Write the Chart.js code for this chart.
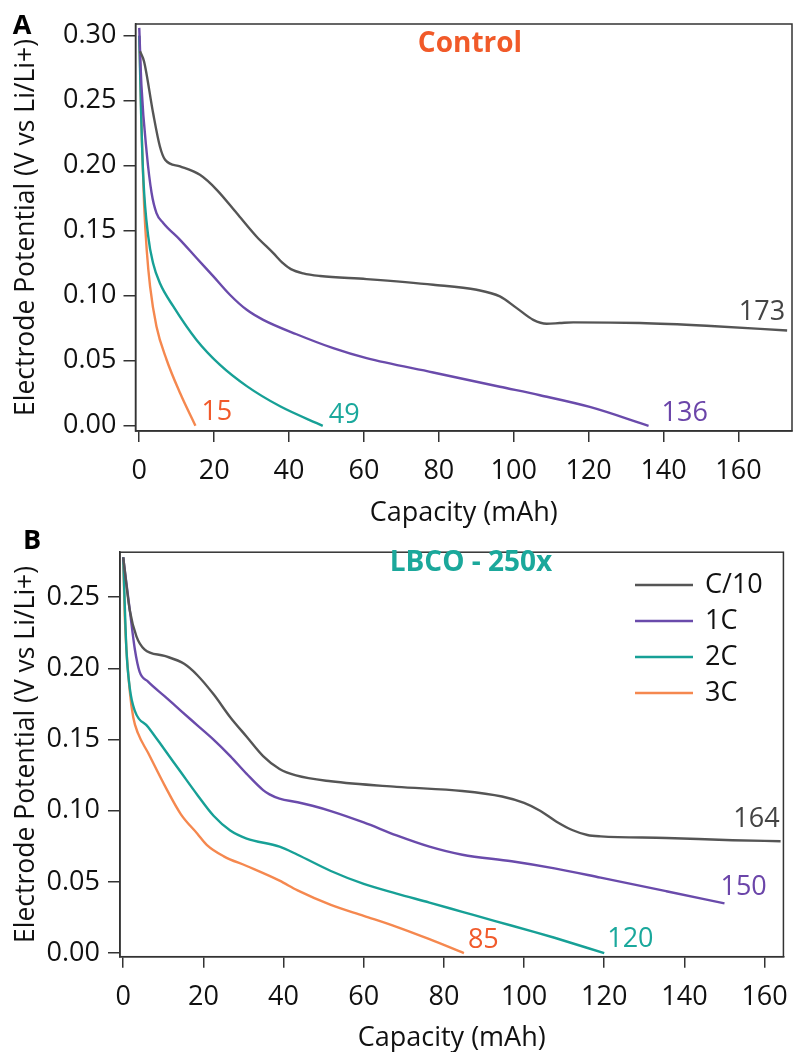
<!DOCTYPE html>
<html>
<head>
<meta charset="utf-8">
<script src="https://cdn.jsdelivr.net/npm/chart.js@4.4.0/dist/chart.umd.min.js"></script>
<style>
  html, body { margin: 0; padding: 0; background: #fff; }
  #wrap { position: relative; width: 801px; height: 1052px; }
  #chartA { position: absolute; left: 0; top: 0; }
  #chartB { position: absolute; left: 0; top: 528px; }
</style>
</head>
<body>
<div id="wrap">
  <canvas id="chartA" width="801" height="528"></canvas>
  <canvas id="chartB" width="801" height="524"></canvas>
</div>
<script>
// series names / colours
const seriesNames = ['C/10', '1C', '2C', '3C'];
const lineColors = ['#555555', '#6a4bab', '#17a096', '#f5884f'];
const labelColors = ['#444444', '#6b45a9', '#1aa89c', '#f15a2b'];

// panel A - Control
const capA_C10 = [0.2, 1.3, 3.7, 5.5, 6.9, 10.9, 16.2, 20.7, 26, 31.3, 35.8, 38.2, 40.5, 43.8, 48.3, 60.7, 78.5, 90.1, 96.3, 100.8, 105.2, 108.8, 112.3, 115.9, 133.7, 151.5, 173];
const potA_C10 = [0.288, 0.280, 0.2405, 0.215, 0.2046, 0.1995, 0.193, 0.1815, 0.1636, 0.1456, 0.1328, 0.1255, 0.1205, 0.1172, 0.1152, 0.1128, 0.1085, 0.1046, 0.0995, 0.0905, 0.0815, 0.0785, 0.079, 0.0795, 0.079, 0.0769, 0.0733];
const capA_1C = [0, 0.6, 2, 3.3, 4.6, 6.4, 10.9, 15.3, 19.8, 24.2, 28.7, 33.1, 42, 51.8, 60.7, 78.5, 96.3, 107, 120.3, 136];
const potA_1C = [0.306, 0.261, 0.2098, 0.179, 0.1636, 0.156, 0.143, 0.129, 0.1149, 0.1008, 0.0892, 0.0815, 0.0704, 0.0597, 0.052, 0.041, 0.030, 0.0235, 0.0145, 0];
const capA_2C = [0, 0.5, 1.1, 2.4, 3.7, 5.5, 9.1, 15.3, 21.5, 28.7, 37.6, 49];
const potA_2C = [0.30, 0.24, 0.19, 0.1456, 0.125, 0.1098, 0.0918, 0.066, 0.047, 0.0305, 0.015, 0];
const capA_3C = [0, 0.3, 0.7, 1.3, 2.0, 2.9, 4.6, 7.3, 10.9, 15];
const potA_3C = [0.30, 0.27, 0.22, 0.17, 0.135, 0.107, 0.0764, 0.0508, 0.0252, 0];
const endLabelsA = ['173', '136', '49', '15'];

// panel B - LBCO - 250x
const capB_C10 = [0, 1.65, 3.3, 5.3, 10.3, 15.2, 18.5, 22.6, 26.7, 30.8, 34.9, 39, 43.1, 51.8, 68.2, 84.6, 94.5, 100, 104, 108, 112, 115.8, 119.1, 135.5, 152, 164];
const potB_C10 = [0.278, 0.2407, 0.2225, 0.2134, 0.2088, 0.2032, 0.1952, 0.1816, 0.1657, 0.152, 0.1384, 0.1293, 0.1248, 0.1207, 0.1168, 0.1139, 0.110, 0.1055, 0.100, 0.0925, 0.0865, 0.083, 0.082, 0.0809, 0.0793, 0.0786];
const capB_1C = [0, 1.65, 2.9, 4.1, 6.2, 10.3, 14.4, 18.5, 22.6, 26.7, 30.8, 34.9, 36.5, 39, 43.5, 47.2, 51.8, 60, 68.2, 76.4, 84.6, 96.9, 107.6, 119.1, 135.5, 150];
const potB_1C = [0.278, 0.2407, 0.2134, 0.1975, 0.1907, 0.1805, 0.1702, 0.16, 0.1498, 0.1384, 0.1259, 0.1145, 0.1115, 0.1085, 0.106, 0.1035, 0.0998, 0.0918, 0.0827, 0.0748, 0.0691, 0.0645, 0.0595, 0.053, 0.0435, 0.035];
const capB_2C = [0, 0.8, 1.65, 2.9, 6.2, 10.3, 14.4, 18.5, 22.6, 26.7, 30.8, 39, 43.5, 51.8, 60, 68.2, 76.4, 84.6, 92.8, 102.7, 107.6, 120];
const potB_2C = [0.278, 0.2134, 0.186, 0.1702, 0.1589, 0.143, 0.127, 0.1111, 0.0963, 0.0861, 0.0805, 0.0748, 0.0691, 0.0577, 0.0486, 0.0418, 0.0355, 0.029, 0.0225, 0.0148, 0.0108, 0];
const capB_3C = [0, 0.4, 1.65, 2.5, 3.7, 6.2, 10.3, 14.4, 18.5, 20.9, 25.1, 30.8, 39, 43.5, 51.8, 60, 68.2, 76.4, 85];
const potB_3C = [0.278, 0.236, 0.1839, 0.1657, 0.1543, 0.1407, 0.118, 0.0975, 0.0839, 0.0759, 0.068, 0.0612, 0.0509, 0.0441, 0.0339, 0.0262, 0.0185, 0.0098, 0];
const endLabelsB = ['164', '150', '120', '85'];

// tick spacing
const xTickStep = 20;
const yTickStep = 0.05;

Chart.defaults.font.family = "'Open Sans', sans-serif";
Chart.defaults.color = '#111';

const FRAME = '#333';
const FONT = "'Open Sans', sans-serif";

function pairs(xs, ys) {
    return xs.map((x, i) => ({ x, y: ys[i] }));
}

function buildDatasets(caps, pots) {
    return caps.map((c, i) => ({
        label: seriesNames[i],
        data: pairs(c, pots[i]),
        borderColor: lineColors[i],
        borderWidth: 2.4,
        pointRadius: 0,
        fill: false,
        cubicInterpolationMode: 'monotone',
    }));
}

const panelDecor = {
    id: 'panelDecor',
    afterDraw(chart, args, opts) {
        const ctx = chart.ctx;
        const a = chart.chartArea;
        ctx.save();
        ctx.strokeStyle = FRAME;
        ctx.lineWidth = 1.5;
        ctx.strokeRect(a.left, a.top, a.right - a.left, a.bottom - a.top);

        ctx.textBaseline = 'middle';
        ctx.textAlign = 'center';
        ctx.fillStyle = '#000';
        ctx.font = `bold 27px ${FONT}`;
        ctx.fillText(opts.letter, opts.letterPos[0], opts.letterPos[1]);

        ctx.fillStyle = opts.headingColor;
        ctx.font = `bold 28px ${FONT}`;
        ctx.fillText(opts.heading, opts.headingPos[0], opts.headingPos[1]);

        ctx.font = `27px ${FONT}`;
        chart.data.datasets.forEach((ds, i) => {
            const last = ds.data[ds.data.length - 1];
            const px = chart.scales.x.getPixelForValue(last.x);
            const py = chart.scales.y.getPixelForValue(last.y);
            const off = opts.endOffsets[i];
            ctx.fillStyle = labelColors[i];
            ctx.textAlign = off[2];
            ctx.fillText(opts.endLabels[i], px + off[0], py + off[1]);
        });

        if (opts.legend) {
            const lg = opts.legend;
            chart.data.datasets.forEach((ds, i) => {
                const y = lg.top + i * lg.row;
                ctx.strokeStyle = ds.borderColor;
                ctx.lineWidth = 2.4;
                ctx.beginPath();
                ctx.moveTo(lg.left, y);
                ctx.lineTo(lg.left + lg.line, y);
                ctx.stroke();
                ctx.fillStyle = '#111';
                ctx.textAlign = 'left';
                ctx.fillText(ds.label, lg.left + lg.line + 12, y);
            });
        }
        ctx.restore();
    }
};

function makeScales(o) {
    return {
        x: {
            type: 'linear',
            min: o.xMin, max: o.xMax,
            border: { display: true, color: FRAME, width: 1.5 },
            grid: { display: true, drawOnChartArea: false, drawTicks: true, tickLength: 11, color: FRAME, lineWidth: 1.5 },
            ticks: { stepSize: xTickStep, includeBounds: false, padding: 13, color: '#111', font: { size: 27 }, maxRotation: 0, autoSkip: false },
            title: { display: true, text: 'Capacity (mAh)', color: '#111', font: { size: 27 }, padding: { top: 0, bottom: o.xTitlePad } },
            afterFit: s => { s.height = o.xHeight; }
        },
        y: {
            type: 'linear',
            min: o.yMin, max: o.yMax,
            border: { display: true, color: FRAME, width: 1.5 },
            grid: { display: true, drawOnChartArea: false, drawTicks: true, tickLength: 12, color: FRAME, lineWidth: 1.5 },
            ticks: { stepSize: yTickStep, includeBounds: false, padding: o.yTickPad, color: '#111', font: { size: 27 }, callback: v => v.toFixed(2) },
            title: { display: true, text: 'Electrode Potential (V vs Li/Li+)', color: '#111', font: { size: 26.5 }, padding: { top: 11, bottom: 0 } },
            afterFit: s => { s.width = o.yWidth; }
        }
    };
}

new Chart(document.getElementById('chartA'), {
    type: 'line',
    data: { datasets: buildDatasets([capA_C10, capA_1C, capA_2C, capA_3C], [potA_C10, potA_1C, potA_2C, potA_3C]) },
    options: {
        responsive: false,
        animation: false,
        devicePixelRatio: 1,
        layout: { padding: { top: 24, right: 9, left: 0, bottom: 0 } },
        plugins: {
            legend: { display: false },
            tooltip: { enabled: false },
            panelDecor: {
                letter: 'A', letterPos: [22, 26],
                heading: 'Control', headingColor: '#f15a29', headingPos: [470, 44],
                endLabels: endLabelsA,
                endOffsets: [[-2, -18, 'right'], [13, -12, 'left'], [6, -10, 'left'], [6, -13, 'left']]
            }
        },
        scales: makeScales({ xMin: -1.0, xMax: 174.3, yMin: -0.004, yMax: 0.309, xHeight: 97, yWidth: 135.5, xTitlePad: -2, yTickPad: 7 })
    },
    plugins: [panelDecor]
});

new Chart(document.getElementById('chartB'), {
    type: 'line',
    data: { datasets: buildDatasets([capB_C10, capB_1C, capB_2C, capB_3C], [potB_C10, potB_1C, potB_2C, potB_3C]) },
    options: {
        responsive: false,
        animation: false,
        devicePixelRatio: 1,
        layout: { padding: { top: 12, right: 9.3, left: 0, bottom: 0 } },
        plugins: {
            legend: { display: false },
            tooltip: { enabled: false },
            panelDecor: {
                letter: 'B', letterPos: [32, 13],
                heading: 'LBCO - 250x', headingColor: '#1ba89b', headingPos: [471, 35],
                endLabels: endLabelsB,
                endOffsets: [[-1, -22, 'right'], [-4, -16, 'left'], [3, -14, 'left'], [4, -13, 'left']],
                legend: { left: 635, line: 58, top: 57, row: 36 }
            }
        },
        scales: makeScales({ xMin: -0.8, xMax: 164.7, yMin: -0.0025, yMax: 0.2816, xHeight: 95.3, yWidth: 120, xTitlePad: -3, yTickPad: 8 })
    },
    plugins: [panelDecor]
});
</script>
</body>
</html>
